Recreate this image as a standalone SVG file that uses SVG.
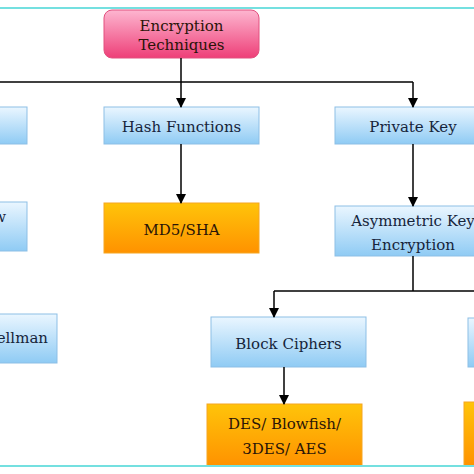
<svg xmlns="http://www.w3.org/2000/svg" width="474" height="474" viewBox="0 0 474 474">
<defs>
<linearGradient id="gBlue" x1="0" y1="0" x2="0" y2="1"><stop offset="0" stop-color="#eaf6ff"/><stop offset="1" stop-color="#8fcbf4"/></linearGradient>
<linearGradient id="gPink" x1="0" y1="0" x2="0" y2="1"><stop offset="0" stop-color="#fdb6d0"/><stop offset="1" stop-color="#ee3f78"/></linearGradient>
<linearGradient id="gOrange" x1="0" y1="0" x2="0" y2="1"><stop offset="0" stop-color="#ffc40a"/><stop offset="1" stop-color="#ff9200"/></linearGradient>
<marker id="arr" markerWidth="10" markerHeight="10" refX="9" refY="5" orient="auto" markerUnits="userSpaceOnUse"><path d="M0,0 L10,5 L0,10 Z" fill="#000"/></marker>
<style>
.blue{fill:url(#gBlue);stroke:#8dbfe6;stroke-width:1}
.pink{fill:url(#gPink);stroke:#e2507f;stroke-width:1}
.orange{fill:url(#gOrange);stroke:#f5a623;stroke-width:1}
.t{font-family:'DejaVu Serif',serif;font-size:15px;text-anchor:middle;fill:#16243a}
.tk{font-family:'DejaVu Serif',serif;font-size:15px;text-anchor:middle;fill:#2a1408}
.c{fill:none;stroke:#000;stroke-width:1.5}
.frame{stroke:#74e0e0;stroke-width:2}
</style>
</defs>
<rect width="474" height="474" fill="#fff"/>
<g id="nodeRoot"><rect class="pink" x="104" y="10" width="155" height="48" rx="8"/><text class="tk" x="181.5" y="31">Encryption</text><text class="tk" x="181.5" y="50">Techniques</text></g>
<g id="nodeLeft1"><rect class="blue" x="-20" y="107" width="47" height="37"/></g>
<g id="nodeHash"><rect class="blue" x="104" y="107" width="155" height="37"/><text class="t" x="181.5" y="132">Hash Functions</text></g>
<g id="nodePrivate"><rect class="blue" x="335" y="107" width="156" height="37"/><text class="t" x="413" y="132">Private Key</text></g>
<g id="nodeLeft2"><rect class="blue" x="-20" y="202" width="47" height="49"/><text class="t" x="6" y="222" style="text-anchor:end">w</text></g>
<g id="nodeMD5"><rect class="orange" x="104" y="203" width="155" height="50"/><text class="tk" x="181.5" y="235">MD5/SHA</text></g>
<g id="nodeAsym"><rect class="blue" x="335" y="206" width="156" height="50"/><text class="t" x="413" y="226">Asymmetric Key</text><text class="t" x="413" y="250">Encryption</text></g>
<g id="nodeLeft3"><rect class="blue" x="-20" y="314" width="77" height="49"/><text class="t" x="48" y="343" style="text-anchor:end">Hellman</text></g>
<g id="nodeBlock"><rect class="blue" x="211" y="317" width="155" height="50"/><text class="t" x="288.5" y="349">Block Ciphers</text></g>
<g id="nodeRight1"><rect class="blue" x="468" y="318" width="20" height="49"/></g>
<g id="nodeDES"><rect class="orange" x="207" y="404" width="155" height="62"/><text class="tk" x="284.5" y="429">DES/ Blowfish/</text><text class="tk" x="284.5" y="454">3DES/ AES</text></g>
<g id="nodeRight2"><rect class="orange" x="464" y="402" width="20" height="64"/></g>
<g id="connectors">
<path class="c" d="M181,58 V82"/>
<path class="c" d="M-5,82 H413"/>
<path class="c" d="M181,82 V107" marker-end="url(#arr)"/>
<path class="c" d="M413,82 V107" marker-end="url(#arr)"/>
<path class="c" d="M181,144 V203" marker-end="url(#arr)"/>
<path class="c" d="M413,144 V206" marker-end="url(#arr)"/>
<path class="c" d="M413,256 V291"/>
<path class="c" d="M274,291 H480"/>
<path class="c" d="M274,291 V317" marker-end="url(#arr)"/>
<path class="c" d="M284,367 V404" marker-end="url(#arr)"/>
</g>
<line class="frame" x1="0" y1="8" x2="474" y2="8"/>
<line class="frame" x1="0" y1="466" x2="474" y2="466"/>
</svg>
